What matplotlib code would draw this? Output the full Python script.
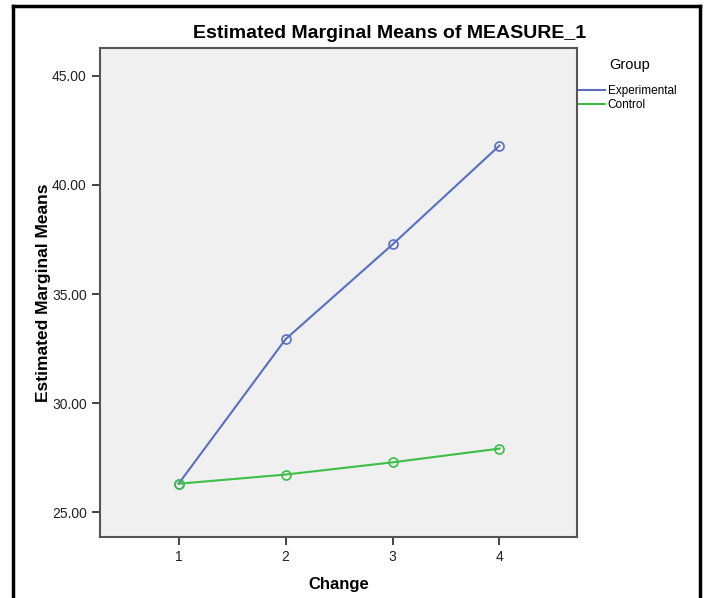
import matplotlib.pyplot as plt
from matplotlib.lines import Line2D

plt.rcParams['font.family'] = ['Liberation Sans', 'DejaVu Sans']

# data
change = [1, 2, 3, 4]
experimental = [26.31, 32.93, 37.27, 41.80]
control = [26.31, 26.73, 27.29, 27.92]
yticks = [25, 30, 35, 40, 45]

blue = '#5a6ec0'
green = '#3dbe48'

fig = plt.figure(figsize=(7.07, 5.98), dpi=100)
ax = fig.add_axes([100 / 707, 1 - 537 / 598, 477 / 707, 489 / 598])
ax.set_facecolor('#f0f0f0')

ax.plot(change, experimental, color=blue, lw=1.5, marker='o', ms=6.5,
        mfc='none', mec=blue, mew=1.2, label='Experimental')
ax.plot(change, control, color=green, lw=1.5, marker='o', ms=6.5,
        mfc='none', mec=green, mew=1.2, label='Control')

ax.set_xlim(0.265, 4.725)
ax.set_ylim(23.87, 46.27)
ax.set_xticks(change)
ax.set_yticks(yticks)
ax.set_yticklabels(['%.2f' % v for v in yticks])
ax.tick_params(direction='out', length=6, width=1.2, color='#222222',
               labelsize=10, labelcolor='#222222')
for s in ax.spines.values():
    s.set_color('#555555')
    s.set_linewidth(1.5)

ax.set_xlabel('Change', fontsize=12, fontweight='bold', labelpad=9)
ax.set_ylabel('Estimated Marginal Means', fontsize=12.5, fontweight='bold', labelpad=1)
fig.text(390 / 707, 1 - 33 / 598, 'Estimated Marginal Means of MEASURE_1',
         ha='center', va='center', fontsize=14, fontweight='bold')

# legend
fig.text(630 / 707, 1 - 65 / 598, 'Group', ha='center', va='center', fontsize=10.5)
handles = [Line2D([0], [0], color=blue, lw=1.5), Line2D([0], [0], color=green, lw=1.5)]
fig.legend(handles, ['Experimental', 'Control'], loc='upper left',
           bbox_to_anchor=(570 / 707, 1 - 76 / 598), frameon=False, fontsize=8.5,
           handlelength=2.2, handletextpad=0.2, labelspacing=0.15, borderpad=0.3)

# outer border
for xs, ys in [([13, 13], [598, 6]), ([13, 700], [6, 6]), ([700, 700], [6, 598])]:
    fig.add_artist(Line2D([x / 707 for x in xs], [1 - y / 598 for y in ys],
                          color='black', lw=2.5))

plt.savefig('out.png', dpi=100)
